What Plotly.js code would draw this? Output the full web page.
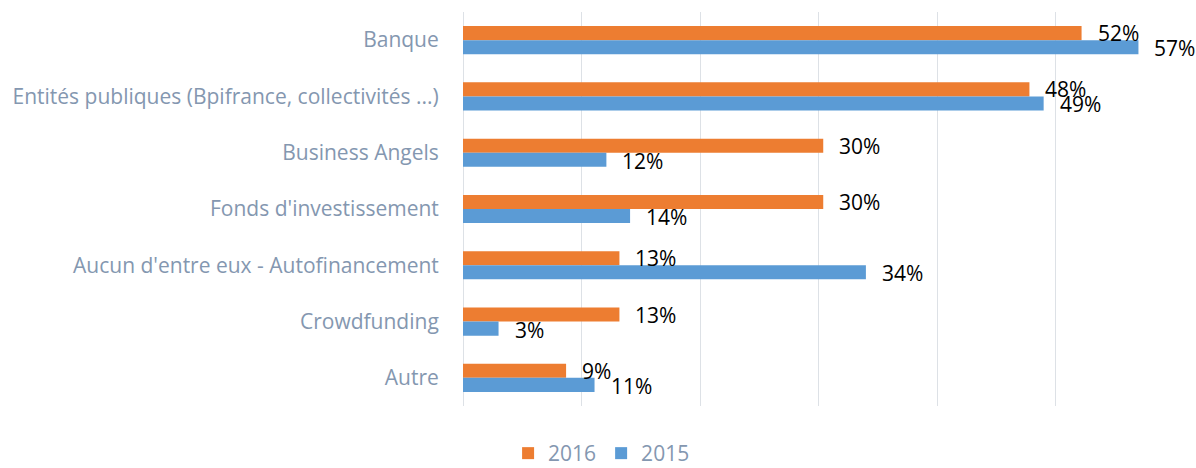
<!DOCTYPE html>
<html>
<head>
<meta charset="utf-8">
<script src="https://cdn.plot.ly/plotly-3.0.1.min.js"></script>
<style>html,body{margin:0;padding:0;background:#fff;}#chart{width:1196px;height:468px;}</style>
</head>
<body>
<div id="chart"></div>
<script>
const categories = ["Banque", "Entités publiques (Bpifrance, collectivités ...)", "Business Angels", "Fonds d'investissement", "Aucun d'entre eux - Autofinancement", "Crowdfunding", "Autre"];
const values2016 = [52.2, 47.8, 30.4, 30.4, 13.2, 13.2, 8.7];
const values2015 = [57.0, 49.0, 12.1, 14.1, 34.0, 3.0, 11.1];
const seriesNames = ["2016", "2015"];

const colors = ["#ED7D31", "#5B9BD5"];
const textGrey = "#8497B0";
const fontFamily = "Open Sans, sans-serif";

const traces = [values2016, values2015].map((vals, i) => ({
  type: "bar",
  orientation: "h",
  name: seriesNames[i],
  x: vals,
  y: categories,
  marker: {color: colors[i]},
  hoverinfo: "none"
}));

const annotations = [];
[values2016, values2015].forEach((vals, i) => {
  vals.forEach((v, j) => {
    annotations.push({
      x: v, y: categories[j], xref: "x", yref: "y",
      text: Math.round(v) + "%", showarrow: false,
      xanchor: "left", yanchor: "middle",
      xshift: 14, yshift: i === 0 ? 7 : -8,
      font: {family: fontFamily, size: 21, color: "#000"}
    });
  });
});

const layout = {
  width: 1196, height: 468,
  margin: {l: 463, r: 22, t: 12, b: 62},
  paper_bgcolor: "#fff", plot_bgcolor: "#fff",
  barmode: "group", bargap: 0.5, bargroupgap: 0,
  showlegend: true,
  legend: {
    orientation: "h", x: 0.503, xref: "container", xanchor: "center",
    y: 0.031, yref: "container", yanchor: "middle",
    font: {family: fontFamily, size: 21, color: textGrey},
    traceorder: "normal", itemwidth: 30
  },
  xaxis: {
    range: [0, 60], dtick: 10, showticklabels: false,
    showgrid: true, gridcolor: "#DDE1E6", gridwidth: 1,
    zeroline: true, zerolinecolor: "#DDE1E6", zerolinewidth: 1,
    showline: false, fixedrange: true
  },
  yaxis: {
    type: "category", autorange: "reversed",
    showgrid: false, zeroline: false, showline: false,
    ticks: "outside", ticklen: 19, tickcolor: "rgba(0,0,0,0)",
    tickfont: {family: fontFamily, size: 21, color: textGrey},
    fixedrange: true
  },
  annotations: annotations
};

Plotly.newPlot("chart", traces, layout, {displayModeBar: false, staticPlot: true});
</script>
</body>
</html>
